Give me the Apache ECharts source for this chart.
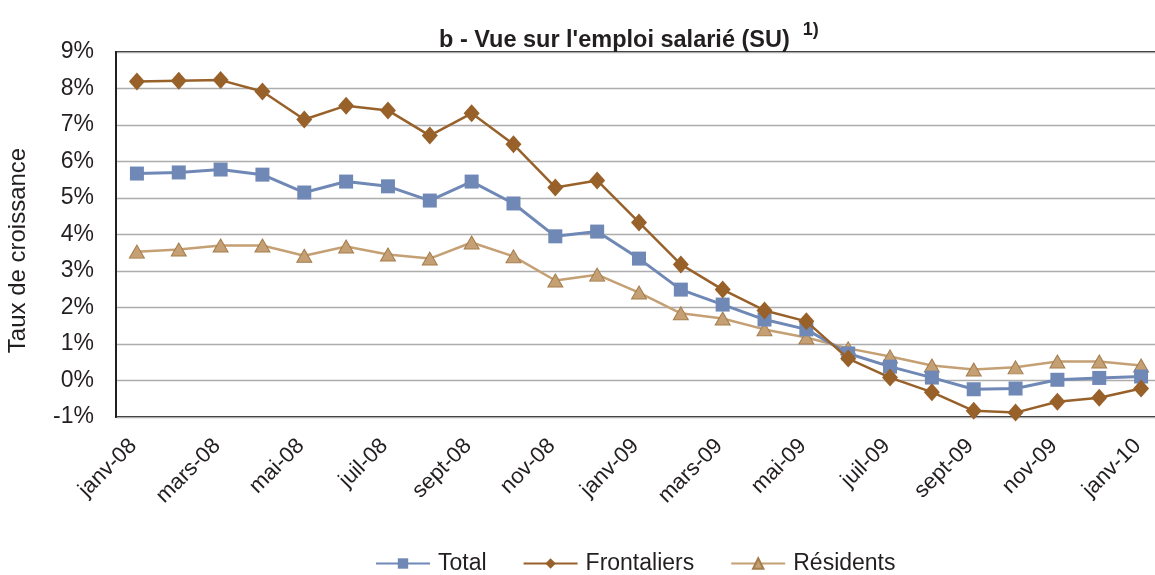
<!DOCTYPE html>
<html>
<head>
<meta charset="utf-8">
<script src="https://cdn.jsdelivr.net/npm/echarts@6/dist/echarts.min.js"></script>
<style>
  html, body { margin: 0; padding: 0; background: #fff; overflow: hidden; }
  #chart { width: 1155px; height: 575px; }
</style>
</head>
<body>
<div id="chart"></div>
<script>
// mois (janv-08 .. janv-10)
var months = ["janv-08","févr-08","mars-08","avr-08","mai-08","juin-08","juil-08","août-08","sept-08","oct-08","nov-08","déc-08",
              "janv-09","févr-09","mars-09","avr-09","mai-09","juin-09","juil-09","août-09","sept-09","oct-09","nov-09","déc-09","janv-10"]

var total = [5.67, 5.70, 5.78, 5.64, 5.15, 5.45, 5.32, 4.93, 5.45, 4.85, 3.95, 4.08,
             3.34, 2.49, 2.08, 1.67, 1.40, 0.74, 0.38, 0.08, -0.24, -0.22, 0.02, 0.07, 0.11]
var frontaliers = [8.19, 8.21, 8.23, 7.92, 7.15, 7.53, 7.40, 6.71, 7.32, 6.47, 5.29, 5.48,
                   4.33, 3.18, 2.49, 1.92, 1.62, 0.60, 0.08, -0.32, -0.83, -0.88, -0.58, -0.47, -0.22]
var residents = [3.53, 3.59, 3.70, 3.70, 3.42, 3.67, 3.45, 3.34, 3.78, 3.40, 2.74, 2.90,
                 2.41, 1.84, 1.70, 1.40, 1.18, 0.88, 0.66, 0.41, 0.30, 0.36, 0.52, 0.52, 0.41]

var myChart = echarts.init(document.getElementById('chart'))
var font = 'Liberation Sans, Arial, sans-serif'
var ink = '#231f20'

var option = {
  animation: false,
  textStyle: { fontFamily: font },
  title: {
    text: "{t|b - Vue sur l'emploi salarié (SU)  }{s|1)}",
    left: 434,
    top: 16,
    textStyle: {
      rich: {
        t: { fontSize: 23.5, fontWeight: 'bold', color: ink, fontFamily: font, padding: [8, 0, 0, 0] },
        s: { fontSize: 18, fontWeight: 'bold', color: ink, fontFamily: font, verticalAlign: 'top', padding: [0, 0, 10, 0] }
      }
    }
  },
  // la zone de tracé dépasse un peu à droite de l'image
  grid: {
    left: 116,
    width: 1046,
    top: 52,
    bottom: 158,
    outerBoundsMode: 'none',
    show: true,
    borderColor: ink,
    borderWidth: 2
  },
  legend: {
    left: 370,
    top: 547,
    itemWidth: 54,
    itemHeight: 13,
    itemGap: 36,
    textStyle: { fontSize: 23, color: ink, fontFamily: font, padding: [0, 0, 0, 3] },
    data: ['Total', 'Frontaliers', 'Résidents']
  },
  xAxis: {
    type: 'category',
    data: months,
    boundaryGap: true,
    axisLine: { show: false },
    axisTick: { show: false },
    axisLabel: {
      interval: 1,
      rotate: 45,
      fontSize: 22,
      color: ink,
      margin: 22,
      padding: [0, 5, 0, 0],
      fontFamily: font
    }
  },
  yAxis: {
    type: 'value',
    min: -1,
    max: 9,
    interval: 1,
    name: 'Taux de croissance',
    nameLocation: 'middle',
    nameRotate: 90,
    nameGap: 86,
    nameTextStyle: { fontSize: 24, color: ink, fontFamily: font, padding: [0, 32, 0, 0] },
    axisLine: { show: true, lineStyle: { color: ink, width: 2 } },
    axisTick: { show: false },
    axisLabel: {
      fontSize: 23,
      color: ink,
      margin: 22,
      fontFamily: font,
      formatter: function (v) { return v + '%' }
    },
    splitLine: { lineStyle: { color: '#adadad', width: 1.3 } }
  },
  series: [
    {
      name: 'Total',
      type: 'line',
      data: total,
      symbol: 'rect',
      symbolSize: 14,
      lineStyle: { color: '#6f88b6', width: 3 },
      itemStyle: { color: '#6f88b6' },
      z: 3
    },
    {
      name: 'Frontaliers',
      type: 'line',
      data: frontaliers,
      symbol: 'diamond',
      symbolSize: [16, 18],
      lineStyle: { color: '#98612a', width: 2.5 },
      itemStyle: { color: '#98612a' },
      z: 4
    },
    {
      name: 'Résidents',
      type: 'line',
      data: residents,
      symbol: 'triangle',
      symbolSize: [15, 13],
      lineStyle: { color: '#c4a074', width: 2.5 },
      itemStyle: { color: '#c4a074', borderColor: '#a57d4c', borderWidth: 1 },
      z: 2
    }
  ]
}

myChart.setOption(option)
</script>
</body>
</html>
